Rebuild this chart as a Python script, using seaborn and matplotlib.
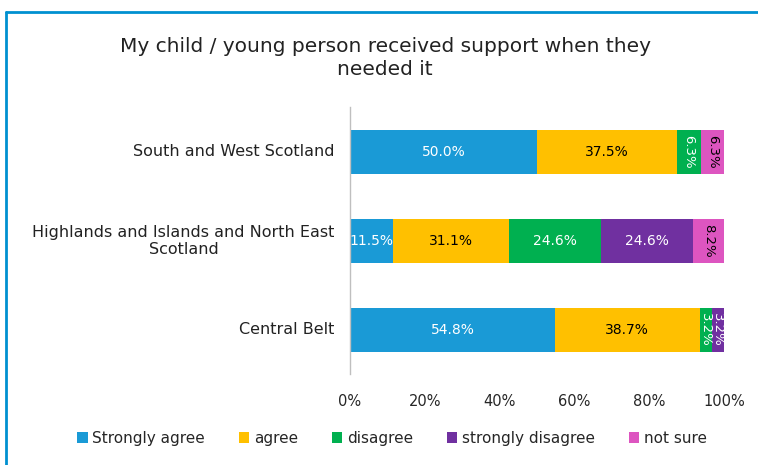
import matplotlib
matplotlib.use("Agg")
import matplotlib.pyplot as plt
import seaborn as sns
import pandas as pd
import numpy as np
from matplotlib.lines import Line2D
from matplotlib.patches import Patch

regions = ["South and West Scotland", "Highlands and Islands and North East\nScotland", "Central Belt"]
responses = ["Strongly agree", "agree", "disagree", "strongly disagree", "not sure"]
strongly_agree = [50.0, 11.5, 54.8]
agree = [37.5, 31.1, 38.7]
disagree = [6.3, 24.6, 3.2]
strongly_disagree = [0.0, 24.6, 3.2]
not_sure = [6.3, 8.2, 0.0]
colors = ["#1A9AD6", "#FFC000", "#00B050", "#7030A0", "#DD55C0"]
text_colors = ["white", "black", "white", "white", "black"]

sns.set_theme(style="white")
plt.rcParams['font.family'] = ['DejaVu Sans']

series = [strongly_agree, agree, disagree, strongly_disagree, not_sure]
vals = np.array(series)
cum = np.cumsum(vals, axis=0)

fig = plt.figure(figsize=(7.58, 4.65), dpi=100)
ax = fig.add_axes([0.4617, 0.195, 0.4934, 0.574])

for i in reversed(range(len(responses))):
    df = pd.DataFrame({"region": regions, "value": cum[i]})
    sns.barplot(data=df, x="value", y="region", color=colors[i], orient="h",
                width=0.5, ax=ax, saturation=1, edgecolor="none")

for j in range(len(regions)):
    for i in range(len(responses)):
        v = vals[i, j]
        if v <= 0:
            continue
        center = cum[i, j] - v / 2
        label = f"{v:.1f}%"
        if v < 9:
            ax.text(center, j, label, ha="center", va="center", rotation=-90,
                    color=text_colors[i], fontsize=9.5)
        else:
            ax.text(center, j, label, ha="center", va="center",
                    color=text_colors[i], fontsize=10)

ax.set_xlim(0, 100)
ax.set_ylim(2.5, -0.5)
ax.set_xticks([0, 20, 40, 60, 80, 100])
ax.set_xticklabels([f"{t}%" for t in [0, 20, 40, 60, 80, 100]], fontsize=10.5)
ax.set_yticks(range(len(regions)))
ax.set_yticklabels([])
ax.tick_params(axis="y", length=0)
ax.tick_params(axis="x", length=0, pad=14)
for j, r in enumerate(regions):
    ax.annotate(r, xy=(0, j), xycoords=("axes fraction", "data"),
                xytext=(-11, 0), textcoords="offset points",
                ha="right", va="center", multialignment="center",
                fontsize=11.5, color="#222222")
ax.set_xlabel("")
ax.set_ylabel("")
for s in ["top", "right", "bottom"]:
    ax.spines[s].set_visible(False)
ax.spines["left"].set_color("#BFBFBF")
ax.spines["left"].set_linewidth(1)

fig.text(0.508, 0.876, "My child / young person received support when they\nneeded it",
         ha="center", va="center", fontsize=14.5, color="#222222", linespacing=1.25)

handles = [Patch(facecolor=c, edgecolor="none") for c in colors]
fig.legend(handles, responses, loc="center", bbox_to_anchor=(0.517, 0.058), ncol=5,
           frameon=False, fontsize=11, handlelength=0.7, handleheight=0.7,
           handletextpad=0.3, columnspacing=2.2)

border = "#0090D0"
fig.add_artist(Line2D([6/758, 1], [1 - 12/465, 1 - 12/465], color=border, lw=2, transform=fig.transFigure))
fig.add_artist(Line2D([6/758, 6/758], [0, 1 - 12/465], color=border, lw=2, transform=fig.transFigure))

fig.savefig("out.png", dpi=100)
